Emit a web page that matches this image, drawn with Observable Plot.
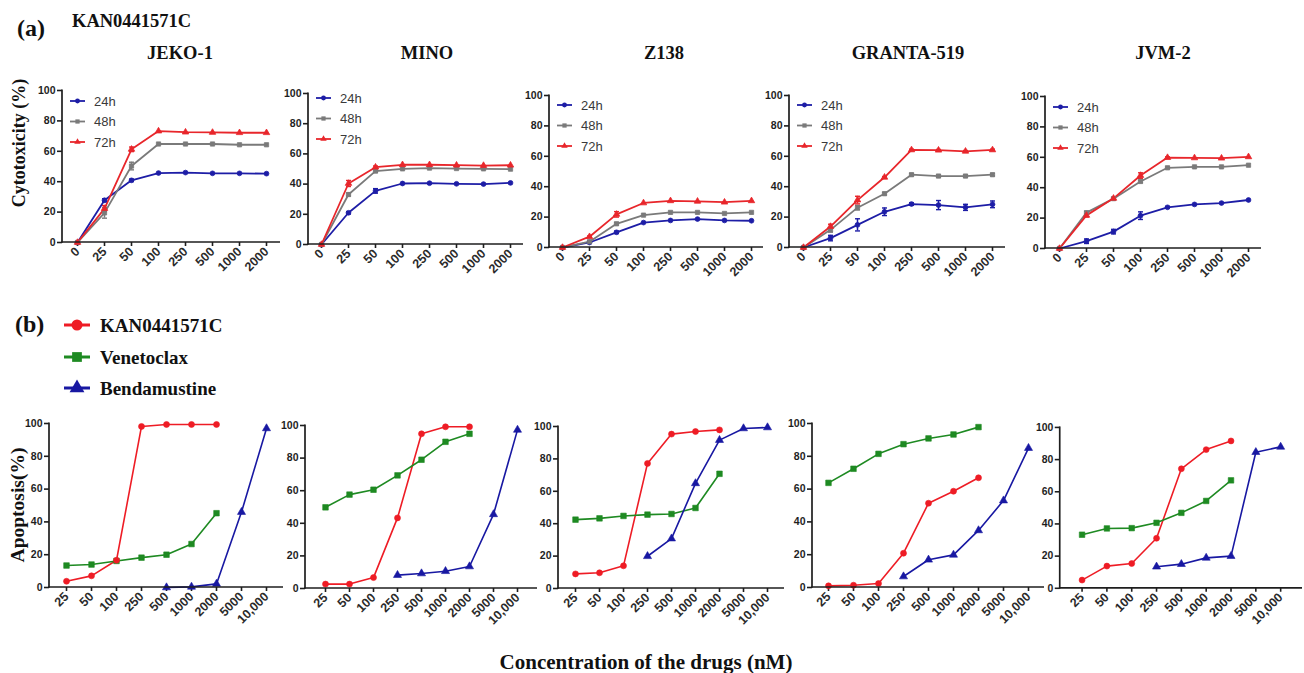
<!DOCTYPE html>
<html><head><meta charset="utf-8">
<script src="https://cdn.jsdelivr.net/npm/d3@7"></script>
<script src="https://cdn.jsdelivr.net/npm/@observablehq/plot@0.6"></script>
<style>
body{margin:0;background:#fff;}
#root{position:relative;width:1304px;height:673px;overflow:hidden;background:#fff;}
.t{position:absolute;font-family:"Liberation Serif","Times New Roman",serif;font-weight:bold;white-space:nowrap;color:#111;line-height:1;}
.panel{position:absolute;}
.panel svg{overflow:visible;}
</style></head><body><div id="root"></div><script>
// ---------------- DATA ----------------
const topDoses = ["0","25","50","100","250","500","1000","2000"];
const botDoses = ["25","50","100","250","500","1000","2000","5000","10,000"];
const cellLines = ["JEKO-1","MINO","Z138","GRANTA-519","JVM-2"];
const times = ["24h","48h","72h"];
const drugs = ["KAN0441571C","Venetoclax","Bendamustine"];

// (a) cytotoxicity (%) of KAN0441571C
const cyto_JEKO1_24h = [0, 27.8, 40.9, 45.7, 46.0, 45.5, 45.5, 45.3];
const cyto_JEKO1_48h = [0, 19.5, 50.3, 64.8, 64.8, 64.8, 64.3, 64.3];
const cyto_JEKO1_72h = [0, 22.3, 61.3, 73.3, 72.6, 72.4, 72.2, 72.2];
const cyto_MINO_24h = [0, 21.0, 35.5, 40.4, 40.6, 40.2, 40.0, 40.8];
const cyto_MINO_48h = [0, 33.1, 48.6, 50.1, 50.6, 50.3, 50.1, 49.9];
const cyto_MINO_72h = [0, 40.4, 51.2, 52.8, 52.8, 52.5, 52.3, 52.5];
const cyto_Z138_24h = [0, 3.3, 10.0, 16.4, 17.8, 18.7, 17.8, 17.6];
const cyto_Z138_48h = [0, 3.8, 15.6, 21.3, 23.1, 23.1, 22.4, 23.1];
const cyto_Z138_72h = [0, 7.1, 21.8, 29.3, 30.7, 30.4, 29.8, 30.7];
const cyto_GRANTA_24h = [0, 6.2, 14.9, 23.5, 28.6, 27.9, 26.4, 28.4];
const cyto_GRANTA_48h = [0, 11.6, 26.2, 35.4, 47.9, 47.0, 47.0, 47.9];
const cyto_GRANTA_72h = [0, 13.8, 31.2, 46.2, 64.2, 64.0, 63.3, 64.2];
const cyto_JVM2_24h = [0, 4.8, 11.1, 21.6, 27.1, 29.0, 29.9, 31.9];
const cyto_JVM2_48h = [0, 23.6, 32.8, 44.1, 53.1, 53.7, 53.7, 54.8];
const cyto_JVM2_72h = [0, 21.8, 33.0, 48.0, 59.8, 59.6, 59.4, 60.3];

// error bars (SEM) where visible
const err_JEKO1_24h = [0, 1.0, 0.8, 0, 0, 0, 0, 0];
const err_JEKO1_48h = [0, 3.5, 2.5, 0, 0, 0, 0, 0];
const err_JEKO1_72h = [0, 2.0, 1.5, 0, 0, 0, 0, 0];
const err_MINO_24h = [0, 0.8, 1.5, 0, 0, 0, 0, 0];
const err_MINO_48h = [0, 1.0, 0.8, 0, 0, 0, 0, 0];
const err_MINO_72h = [0, 2.0, 0.8, 0, 0, 0, 0, 0];
const err_Z138_24h = [0, 0.5, 0.8, 0, 0, 0, 0, 0];
const err_Z138_48h = [0, 0.5, 0.8, 0, 0, 0, 0, 0];
const err_Z138_72h = [0, 0.5, 1.8, 0, 0, 0, 0, 0];
const err_GRANTA_24h = [0, 1.8, 4.0, 2.5, 0.8, 3.0, 2.0, 2.2];
const err_GRANTA_48h = [0, 1.5, 1.5, 0.8, 0.8, 0.8, 0.8, 0.8];
const err_GRANTA_72h = [0, 1.5, 2.5, 0.5, 0.5, 0.5, 0.5, 0.5];
const err_JVM2_24h = [0, 1.5, 1.5, 2.5, 0.5, 0, 0, 0];
const err_JVM2_48h = [0, 0.8, 0.8, 0.8, 0.5, 0, 0, 0];
const err_JVM2_72h = [0, 1.0, 0.5, 1.8, 0.5, 0, 0, 0];

// (b) apoptosis (%)
const apo_JEKO1_KAN = [3.8, 7.1, 16.6, 98.2, 99.4, 99.4, 99.4, null, null];
const apo_JEKO1_VEN = [13.4, 14.0, 16.2, 18.2, 20.0, 26.5, 45.3, null, null];
const apo_JEKO1_BEN = [null, null, null, null, 0, 0.4, 2.2, 46.0, 97.0];
const apo_MINO_KAN = [2.7, 2.7, 6.7, 43.3, 94.9, 99.2, 99.2, null, null];
const apo_MINO_VEN = [49.8, 57.6, 60.6, 69.4, 79.0, 90.0, 94.9, null, null];
const apo_MINO_BEN = [null, null, null, 8.2, 9.2, 10.6, 13.5, 45.5, 97.3];
const apo_Z138_KAN = [9.0, 9.7, 14.0, 77.2, 95.3, 96.9, 97.9, null, null];
const apo_Z138_VEN = [42.5, 43.3, 44.8, 45.6, 46.0, 49.7, 70.8, null, null];
const apo_Z138_BEN = [null, null, null, 19.9, 30.8, 64.9, 91.6, 98.8, 99.4];
const apo_GRANTA_KAN = [1.0, 1.4, 2.4, 20.9, 51.4, 58.7, 66.9, null, null];
const apo_GRANTA_VEN = [63.8, 72.4, 81.5, 87.4, 90.9, 93.3, 97.8, null, null];
const apo_GRANTA_BEN = [null, null, null, 6.7, 16.9, 19.9, 34.8, 53.0, 85.0];
const apo_JVM2_KAN = [5.1, 13.8, 15.4, 31.1, 74.3, 86.2, 91.6, null, null];
const apo_JVM2_VEN = [33.3, 37.2, 37.4, 40.7, 46.9, 54.3, 67.1, null, null];
const apo_JVM2_BEN = [null, null, null, 13.4, 15.0, 18.9, 20.0, 84.6, 87.9];

const yTicks = [0, 20, 40, 60, 80, 100];

// ---------------- TABLES built from the arrays ----------------
const cyto = [
  [cyto_JEKO1_24h, cyto_JEKO1_48h, cyto_JEKO1_72h],
  [cyto_MINO_24h, cyto_MINO_48h, cyto_MINO_72h],
  [cyto_Z138_24h, cyto_Z138_48h, cyto_Z138_72h],
  [cyto_GRANTA_24h, cyto_GRANTA_48h, cyto_GRANTA_72h],
  [cyto_JVM2_24h, cyto_JVM2_48h, cyto_JVM2_72h]
];
const cytoErr = [
  [err_JEKO1_24h, err_JEKO1_48h, err_JEKO1_72h],
  [err_MINO_24h, err_MINO_48h, err_MINO_72h],
  [err_Z138_24h, err_Z138_48h, err_Z138_72h],
  [err_GRANTA_24h, err_GRANTA_48h, err_GRANTA_72h],
  [err_JVM2_24h, err_JVM2_48h, err_JVM2_72h]
];
const apo = [
  [apo_JEKO1_KAN, apo_JEKO1_VEN, apo_JEKO1_BEN],
  [apo_MINO_KAN, apo_MINO_VEN, apo_MINO_BEN],
  [apo_Z138_KAN, apo_Z138_VEN, apo_Z138_BEN],
  [apo_GRANTA_KAN, apo_GRANTA_VEN, apo_GRANTA_BEN],
  [apo_JVM2_KAN, apo_JVM2_VEN, apo_JVM2_BEN]
];

// ---------------- LAYOUT / STYLE ----------------
const timeColors = ["#1d1da6", "#7a7a7a", "#e8262b"];
const timeSymbols = ["circle", "square", "triangle"];
const drugColors = ["#ee1c25", "#1e8a22", "#1818a2"];
const drugSymbols = ["circle", "square", "triangle"];

// axis x, first & last category x, frame top & bottom (page pixels)
const topLayout = [
  {ax: 62, first: 76, last: 266, top: 90, bottom: 242, leg: 11},
  {ax: 308, first: 321, last: 510, top: 93, bottom: 244, leg: 5},
  {ax: 549, first: 561, last: 751, top: 95, bottom: 247, leg: 10},
  {ax: 789, first: 802, last: 992, top: 95, bottom: 247, leg: 10},
  {ax: 1045, first: 1058, last: 1248, top: 96, bottom: 248, leg: 11}
];
const botLayout = [
  {ax: 49, first: 66, last: 266, top: 423, bottom: 587},
  {ax: 305, first: 322, last: 520, top: 425, bottom: 588},
  {ax: 558, first: 573, last: 769, top: 426, bottom: 588},
  {ax: 812, first: 828, last: 1028, top: 423, bottom: 587},
  {ax: 1060, first: 1081, last: 1283, top: 427, bottom: 589}
];

const root = document.getElementById("root");
const ML = 40, MR = 2, MT = 10, MB = 50;
const AXIS = "#1e1e1e";

const capSymbol = {draw(ctx, size) { const r = Math.sqrt(size / Math.PI); ctx.moveTo(-r, 0); ctx.lineTo(r, 0); }};

function addAxisLines(plot, W, H) {
  const s = d3.select(plot);
  s.append("line").attr("x1", ML).attr("x2", ML).attr("y1", MT - 0.5).attr("y2", MT + H + 0.8)
    .attr("stroke", AXIS).attr("stroke-width", 1.7);
  s.append("line").attr("x1", ML - 0.8).attr("x2", ML + W).attr("y1", MT + H).attr("y2", MT + H)
    .attr("stroke", AXIS).attr("stroke-width", 1.7);
}

function place(plot, L) {
  const div = document.createElement("div");
  div.className = "panel";
  div.style.left = (L.ax - ML) + "px";
  div.style.top = (L.top - MT) + "px";
  div.appendChild(plot);
  root.appendChild(div);
}

function geom(L, n) {
  const step = (L.last - L.first) / (n - 1);
  const pad = (L.first - L.ax) / step;
  const W = L.last + pad * step - L.ax;
  const H = L.bottom - L.top;
  return {pad, W, H};
}

const plotStyle = {fontFamily: "'Liberation Sans', Arial, sans-serif", fontSize: "10.5px", fontWeight: "bold", color: AXIS, background: "none", overflow: "visible"};

function axes() {
  return [
    Plot.axisY({ticks: yTicks, tickSize: 5, tickPadding: 2, label: null, strokeWidth: 1.6, fontSize: 10.5}),
    Plot.axisX({tickRotate: -45, tickSize: 4, tickPadding: 3, label: null, strokeWidth: 1.6, fontSize: 12.5, fill: "#2a2a2a"})
  ];
}

function topPanel(i) {
  const L = topLayout[i];
  const {pad, W, H} = geom(L, topDoses.length);
  const rows = [];
  times.forEach((t, k) => topDoses.forEach((d, j) => rows.push({time: t, dose: d, v: cyto[i][k][j], e: cytoErr[i][k][j]})));
  const errRows = rows.filter(r => r.e > 0);
  const plot = Plot.plot({
    width: ML + W + MR, height: MT + H + MB,
    marginLeft: ML, marginRight: MR, marginTop: MT, marginBottom: MB,
    x: {type: "point", domain: topDoses, padding: pad, label: null},
    y: {domain: [0, 100], label: null},
    color: {domain: times, range: timeColors},
    symbol: {domain: times, range: timeSymbols},
    style: plotStyle,
    marks: [
      ...axes(),
      Plot.line(rows, {x: "dose", y: "v", z: "time", stroke: "time", strokeWidth: 1.8}),
      Plot.ruleX(errRows, {x: "dose", y1: r => r.v - r.e, y2: r => r.v + r.e, stroke: "time", strokeWidth: 1.5}),
      Plot.dot(errRows, {x: "dose", y: r => r.v + r.e, symbol: capSymbol, r: 2.5, stroke: "time", fill: "none", strokeWidth: 1.4}),
      Plot.dot(errRows, {x: "dose", y: r => r.v - r.e, symbol: capSymbol, r: 2.5, stroke: "time", fill: "none", strokeWidth: 1.4}),
      Plot.dot(rows, {x: "dose", y: "v", fill: "time", stroke: "time", symbol: "time", r: 2.4, strokeWidth: 0.8})
    ]
  });
  addAxisLines(plot, W, H);
  // in-panel legend
  const s = d3.select(plot);
  times.forEach((t, k) => {
    const y = MT + L.leg + k * 20.5;
    const g = s.append("g");
    g.append("line").attr("x1", ML + 8).attr("x2", ML + 23).attr("y1", y).attr("y2", y)
      .attr("stroke", timeColors[k]).attr("stroke-width", 1.8);
    g.append("path").attr("transform", `translate(${ML + 15.5},${y})`)
      .attr("d", d3.symbol(d3["symbol" + ["Circle", "Square", "Triangle"][k]], Math.PI * 2.4 * 2.4)())
      .attr("fill", timeColors[k]);
    g.append("text").attr("x", ML + 32).attr("y", y).attr("dy", "0.36em").attr("text-anchor", "start")
      .attr("font-family", "'Liberation Sans', Arial, sans-serif").attr("font-size", 13)
      .attr("font-weight", "normal").attr("fill", "#3a3a3a").text(t);
  });
  place(plot, L);
}

function botPanel(i) {
  const L = botLayout[i];
  const {pad, W, H} = geom(L, botDoses.length);
  const rows = [];
  drugs.forEach((dr, k) => botDoses.forEach((d, j) => rows.push({drug: dr, dose: d, v: apo[i][k][j]})));
  const pts = rows.filter(r => r.v != null);
  const plot = Plot.plot({
    width: ML + W + MR, height: MT + H + MB,
    marginLeft: ML, marginRight: MR, marginTop: MT, marginBottom: MB,
    x: {type: "point", domain: botDoses, padding: pad, label: null},
    y: {domain: [0, 100], label: null},
    color: {domain: drugs, range: drugColors},
    symbol: {domain: drugs, range: drugSymbols},
    style: plotStyle,
    marks: [
      ...axes(),
      Plot.line(rows, {x: "dose", y: "v", z: "drug", stroke: "drug", strokeWidth: 1.6}),
      Plot.dot(pts, {x: "dose", y: "v", fill: "drug", stroke: "drug", symbol: "drug", r: d => d.drug === drugs[1] ? 4.3 : 3.9, strokeWidth: 0.6})
    ]
  });
  addAxisLines(plot, W, H);
  place(plot, L);
}

for (let i = 0; i < 5; i++) { topPanel(i); botPanel(i); }

// ---------------- TEXT ----------------
function txt(s, x, y, size, anchor = "middle", rotate = 0) {
  const d = document.createElement("div");
  d.className = "t";
  d.textContent = s;
  d.style.left = x + "px";
  d.style.top = y + "px";
  d.style.fontSize = size + "px";
  const tx = anchor === "middle" ? "-50%" : "0";
  d.style.transform = `translate(${tx},-50%)` + (rotate ? ` rotate(${rotate}deg)` : "");
  root.appendChild(d);
  return d;
}
txt("(a)", 17, 28, 24, "start");
txt("KAN0441571C", 72, 21, 18.5, "start");
const titleX = [180, 427, 664, 908, 1163];
cellLines.forEach((c, i) => txt(c, titleX[i], 53, 18.5));
txt("Cytotoxicity (%)", 19, 143, 18, "middle", -90);
txt("(b)", 15, 324, 24, "start");
txt("Apoptosis(%)", 18, 505, 19.5, "middle", -90);
txt("Concentration  of the drugs (nM)", 646, 662, 21);

// (b) legend
const leg = d3.select(root).append("svg").attr("width", 100).attr("height", 90)
  .style("position", "absolute").style("left", "0px").style("top", "305px");
const legY = [20, 52, 83];
drugs.forEach((dr, k) => {
  leg.append("line").attr("x1", 64).attr("x2", 90).attr("y1", legY[k]).attr("y2", legY[k])
    .attr("stroke", drugColors[k]).attr("stroke-width", 3);
  leg.append("path").attr("transform", `translate(77,${legY[k]})`)
    .attr("d", d3.symbol(d3["symbol" + ["Circle", "Square", "Triangle"][k]], Math.PI * 5.5 * 5.5)())
    .attr("fill", drugColors[k]);
  txt(dr, 100, 305 + legY[k], 19, "start");
});
</script></body></html>
